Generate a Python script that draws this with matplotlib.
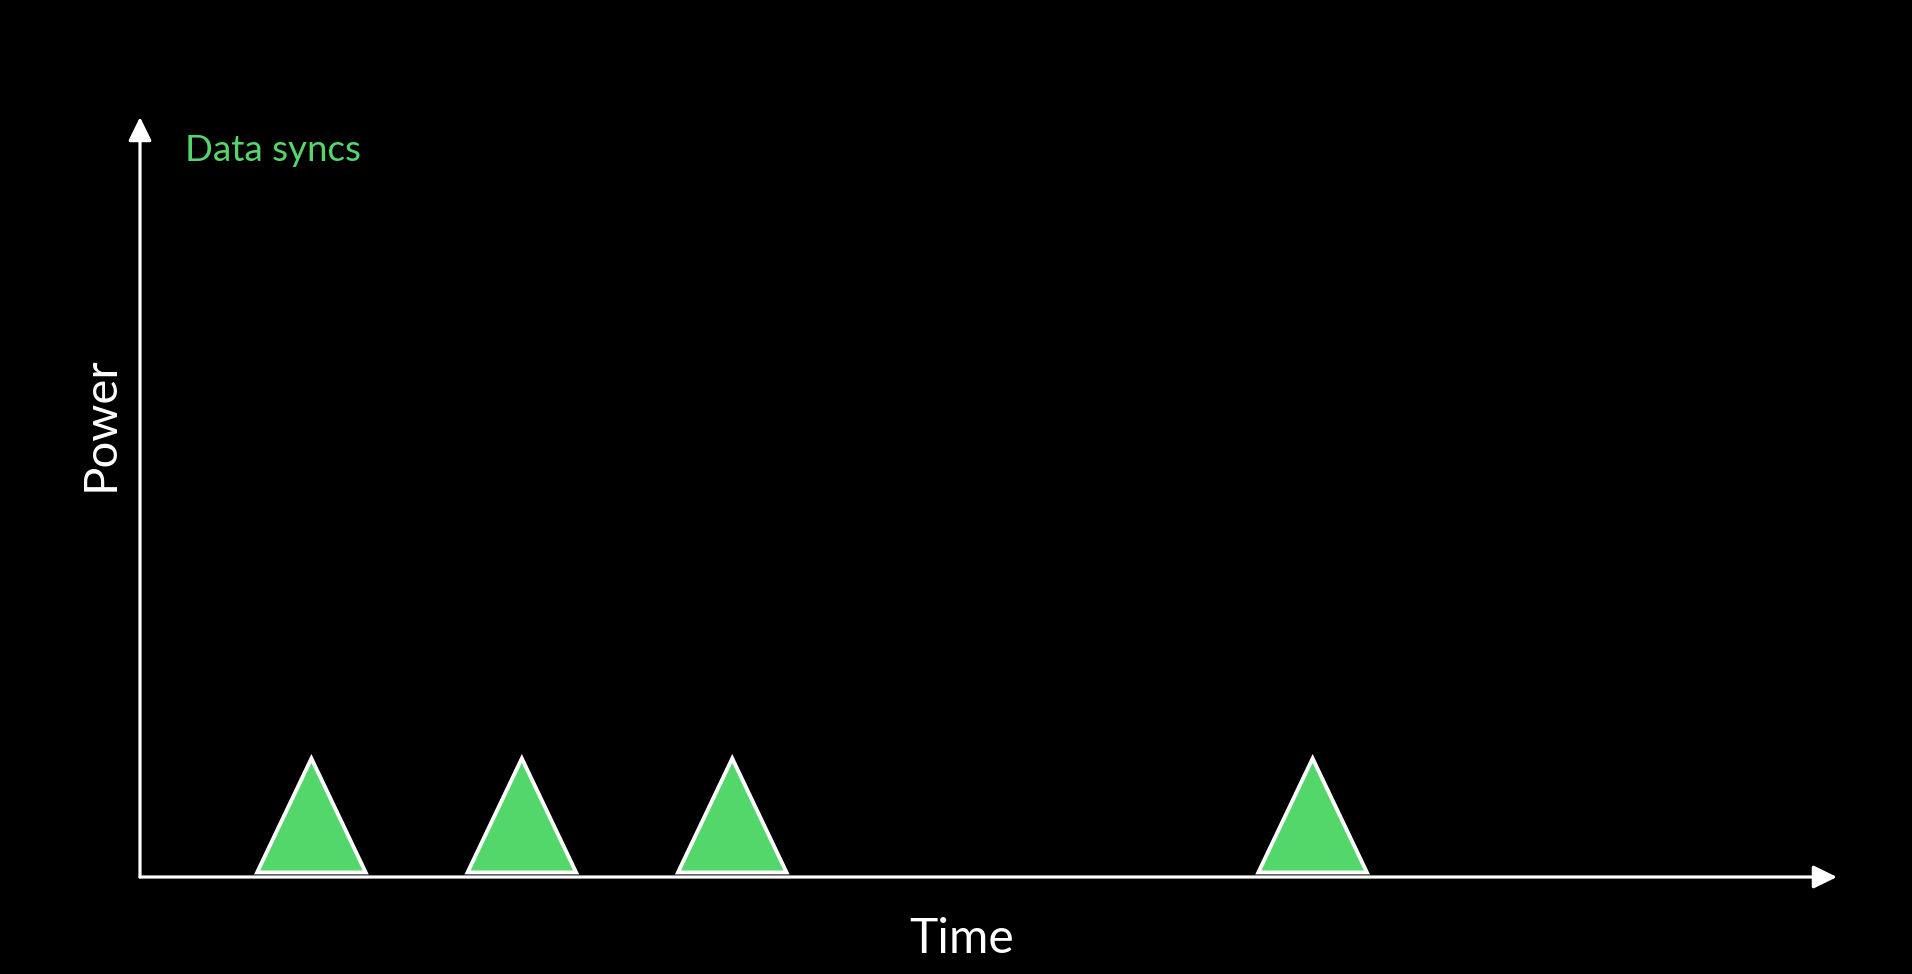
import matplotlib
matplotlib.use('Agg')
import matplotlib.pyplot as plt

plt.rcParams['font.family'] = ['Lato', 'DejaVu Sans']

# sync events along the time axis (0-100), peak power (0-100)
sync_times = [10.1, 22.5, 34.9, 69.1]
sync_peaks = [15.6, 15.6, 15.6, 15.6]
sync_base = 0.6
sync_width = 6.4
label_sync = 'Data syncs'
label_x = 'Time'
label_y = 'Power'

green = '#53d76b'

fig = plt.figure(figsize=(19.12, 9.74), dpi=100, facecolor='black')
ax = fig.add_axes([140/1912, 97/974, 1697/1912, 760/974])
ax.set_facecolor('black')
ax.set_xlim(0, 100)
ax.set_ylim(0, 100)
for s in ax.spines.values():
    s.set_visible(False)
ax.set_xticks([])
ax.set_yticks([])

# axes with arrow heads
arrow = dict(arrowstyle='-|>,head_length=0.45,head_width=0.22', color='white',
             lw=2.3, mutation_scale=32, shrinkA=0, shrinkB=0)
ax.annotate('', xy=(100, 0), xytext=(0, 0), arrowprops=arrow, annotation_clip=False)
ax.annotate('', xy=(0, 100), xytext=(0, 0), arrowprops=arrow, annotation_clip=False)

# triangles for data syncs
for t, p in zip(sync_times, sync_peaks):
    xs = [t - sync_width/2, t, t + sync_width/2]
    ys = [sync_base, p, sync_base]
    ax.fill(xs, ys, facecolor=green, edgecolor='white', linewidth=2.8,
            joinstyle='miter', zorder=3)

ax.text(2.65, 94.2, label_sync, color=green, fontsize=26.5,
        ha='left', va='baseline')

fig.text(114/1912, 1 - 424/974, label_y, color='white', fontsize=34,
         rotation=90, rotation_mode='anchor', ha='center', va='baseline')
fig.text(962/1912, 1 - 953/974, label_x, color='white', fontsize=34.5,
         ha='center', va='baseline')

fig.savefig('out.png', dpi=100, facecolor='black')
